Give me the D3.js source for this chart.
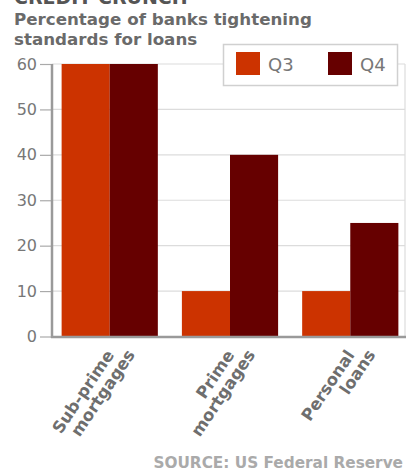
<!DOCTYPE html>
<html><head><meta charset="utf-8">
<script src="https://cdn.jsdelivr.net/npm/d3@7/dist/d3.min.js"></script>
<style>
html,body{margin:0;padding:0;background:#fff;}
svg{display:block;}
text{font-family:"DejaVu Sans",Verdana,sans-serif;}
</style></head>
<body>
<script>
const categories = [["Sub-prime","mortgages"],["Prime","mortgages"],["Personal","loans"]];
const seriesNames = ["Q3","Q4"];
const q3 = [60, 10, 10];
const q4 = [60, 40, 25];
const yTicks = [0,10,20,30,40,50,60];
const colors = ["#cc3300","#660000"];

const W = 406, H = 472;
const svg = d3.select("body").append("svg").attr("width",W).attr("height",H);

const x0 = 52, x1 = 405, yTop = 64, yBot = 336.5;
const y = d3.scaleLinear().domain([0,60]).range([yBot, yTop]);
const x = d3.scaleBand().domain(d3.range(categories.length)).range([x0, 408]).paddingInner(0.2).paddingOuter(0.08);
const xs = d3.scaleBand().domain(seriesNames).range([0, x.bandwidth()]);

// title (partly cut at the top, as in the reference)
svg.append("text").attr("x",14).attr("y",4).attr("font-weight","bold").attr("font-size",19).attr("fill","#555").text("CREDIT CRUNCH");
svg.append("text").attr("x",14).attr("y",25).attr("font-weight","bold").attr("font-size",16.7).attr("fill","#6a6a6a").text("Percentage of banks tightening");
svg.append("text").attr("x",14).attr("y",45).attr("font-weight","bold").attr("font-size",16.7).attr("fill","#6a6a6a").text("standards for loans");

// gridlines
svg.append("g").selectAll("line").data(yTicks.filter(d=>d>0)).join("line")
  .attr("x1",x0).attr("x2",x1).attr("y1",d=>y(d)).attr("y2",d=>y(d))
  .attr("stroke","#dcdcdc").attr("stroke-width",1.2);
svg.append("line").attr("x1",x1).attr("x2",x1).attr("y1",yTop).attr("y2",yBot).attr("stroke","#dcdcdc").attr("stroke-width",1.2);

// bars
const data = [q3, q4];
const g = svg.append("g");
categories.forEach((c,i)=>{
  seriesNames.forEach((s,j)=>{
    g.append("rect").attr("x",x(i)+xs(s)).attr("width",xs.bandwidth())
      .attr("y",y(data[j][i])).attr("height",y(0)-y(data[j][i])).attr("fill",colors[j]);
  });
});

// y axis
const ax = svg.append("g").attr("transform",`translate(${x0},0)`)
  .call(d3.axisLeft(y).tickValues(yTicks).tickSize(12).tickPadding(3));
ax.select(".domain").remove();
ax.selectAll(".tick line").attr("stroke","#aaa").attr("stroke-width",1.2);
ax.selectAll(".tick text").attr("fill","#777").attr("font-size",16).attr("font-family","DejaVu Sans, sans-serif");
svg.append("line").attr("x1",x0).attr("x2",x0).attr("y1",yTop).attr("y2",yBot+1.5).attr("stroke","#9a9a9a").attr("stroke-width",2.5);
svg.append("line").attr("x1",x0-1).attr("x2",x1+1).attr("y1",yBot+0.5).attr("y2",yBot+0.5).attr("stroke","#9a9a9a").attr("stroke-width",2.5);

// category labels
categories.forEach((c,i)=>{
  const cx = x(i) + x.bandwidth()/2;
  const t = svg.append("text").attr("transform",`translate(${cx+5},355) rotate(-56)`)
    .attr("text-anchor","end").attr("font-weight","bold").attr("font-size",16.5).attr("fill","#6e6e6e");
  t.append("tspan").attr("x",0).attr("y",0).text(c[0]);
  t.append("tspan").attr("x",12).attr("y",17).text(c[1]);
});

// legend
const lg = svg.append("g");
lg.append("rect").attr("x",223.5).attr("y",44.5).attr("width",174).attr("height",41).attr("fill","#fff").attr("stroke","#d0d0d0").attr("stroke-width",1.5);
const lx = [236, 328];
seriesNames.forEach((s,j)=>{
  lg.append("rect").attr("x",lx[j]).attr("y",52).attr("width",24).attr("height",23).attr("fill",colors[j]);
  lg.append("text").attr("x",lx[j]+32).attr("y",71).attr("font-size",18).attr("fill","#777").text(s);
});

// source
svg.append("text").attr("x",403).attr("y",468).attr("text-anchor","end").attr("font-weight","bold").attr("font-size",15.3).attr("fill","#aaa").text("SOURCE: US Federal Reserve");
</script>
</body></html>
